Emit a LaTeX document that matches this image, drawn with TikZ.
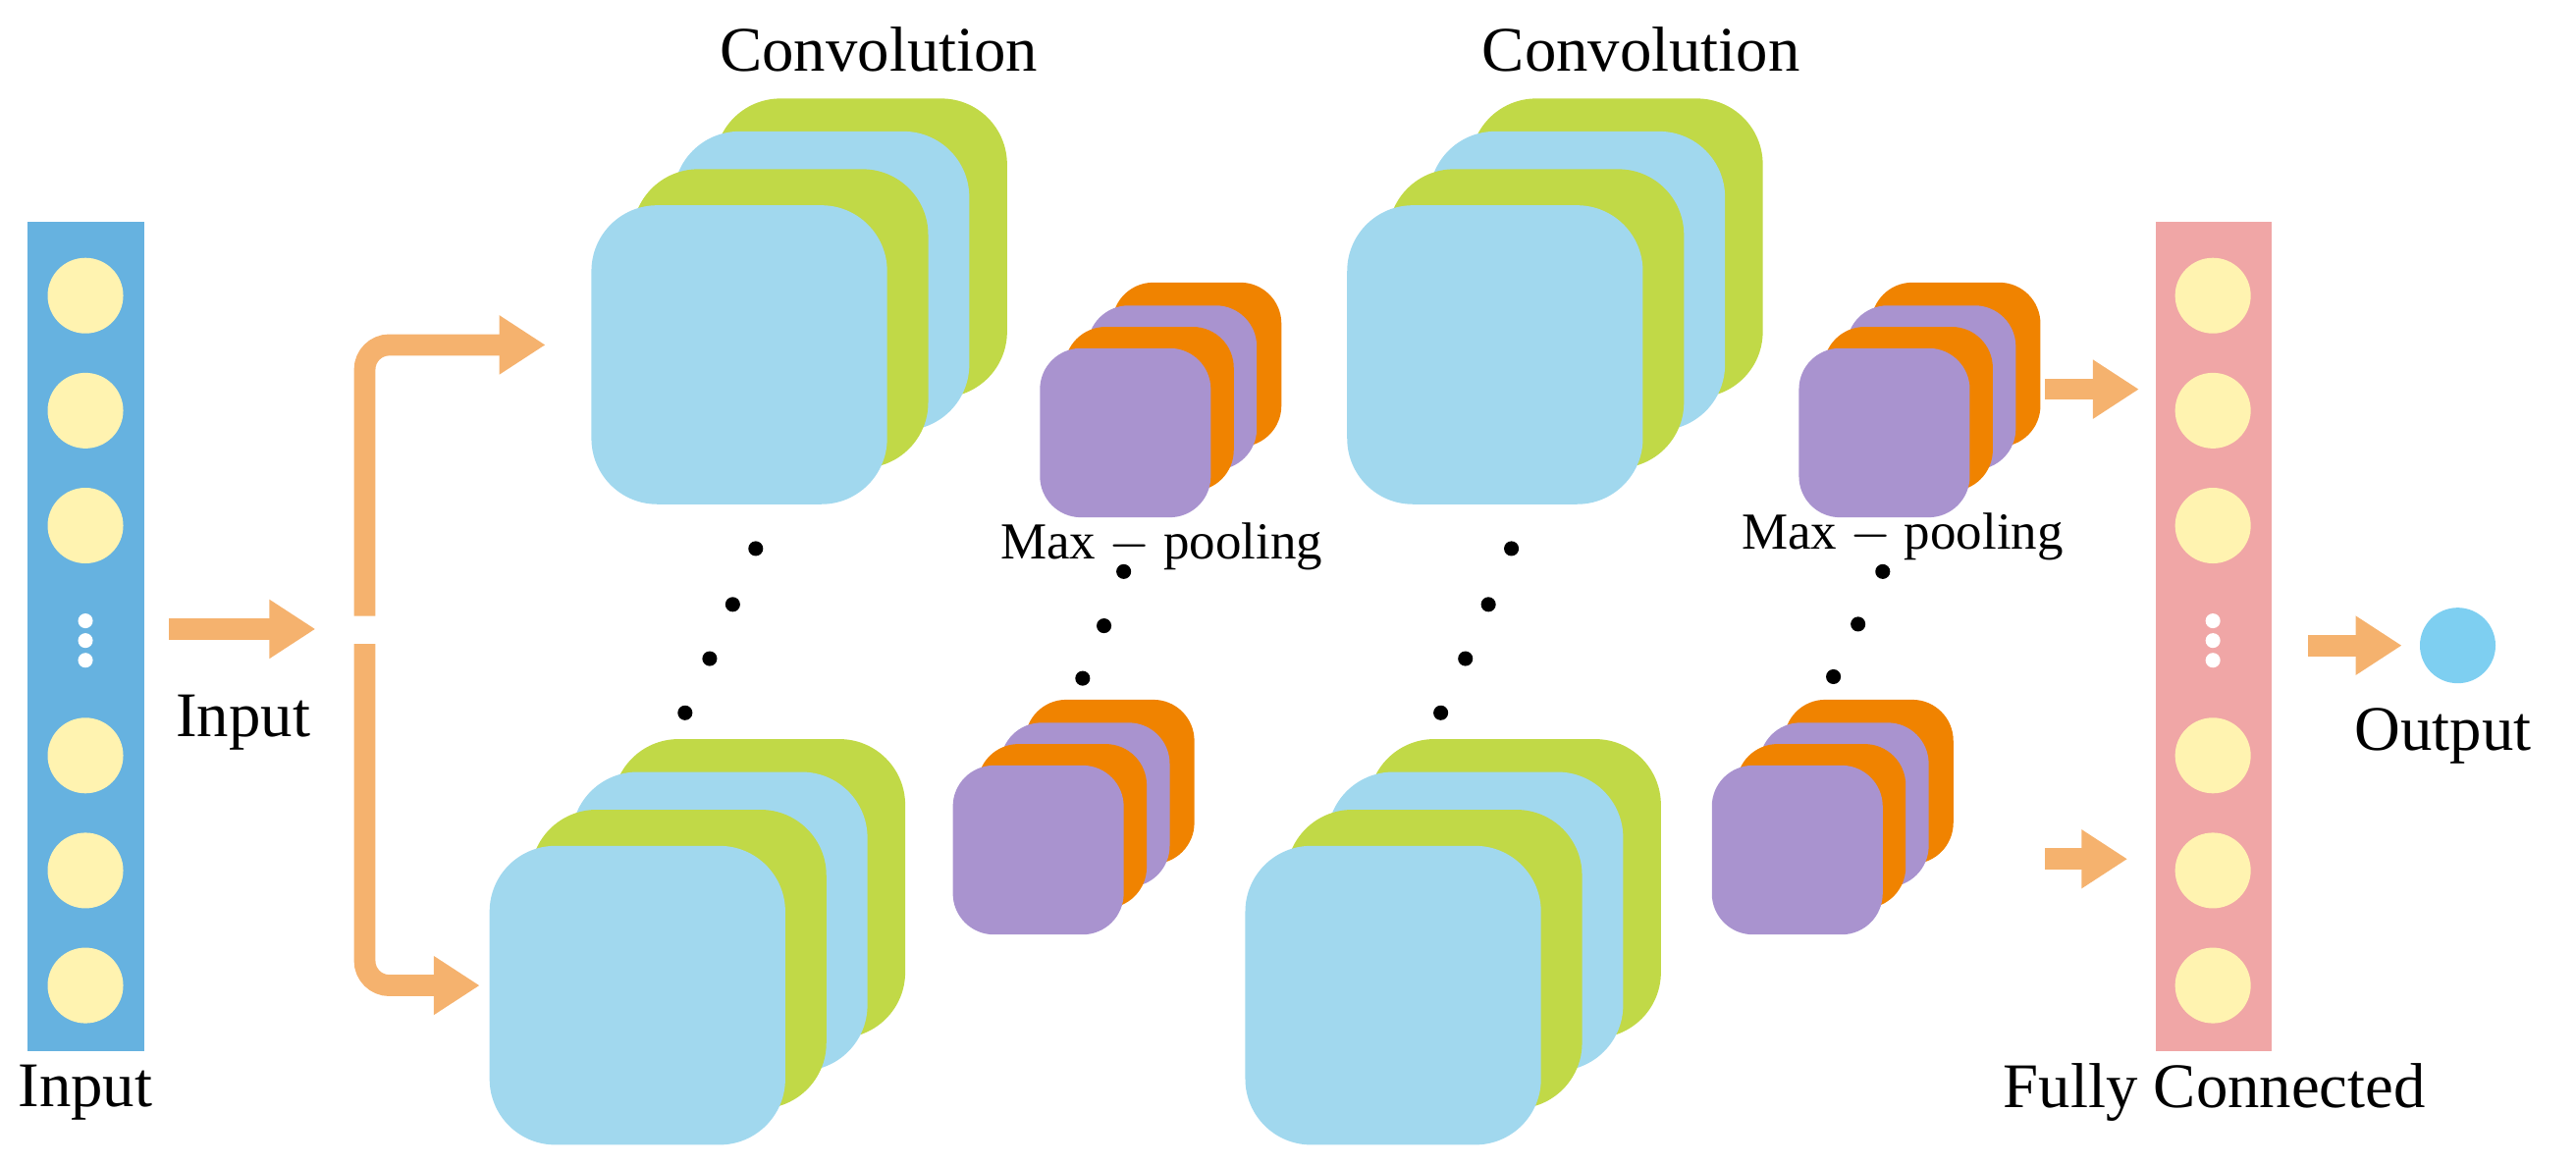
\documentclass[tikz,border=0pt]{standalone}
\usepackage{fontspec}
\setmainfont{Liberation Serif}
\usetikzlibrary{arrows.meta}
\definecolor{lb}{HTML}{A1D8EE}
\definecolor{gr}{HTML}{C1D947}
\definecolor{pu}{HTML}{A993CF}
\definecolor{or}{HTML}{F08300}
\definecolor{ar}{HTML}{F5B26E}
\definecolor{bar}{HTML}{66B2E0}
\definecolor{pk}{HTML}{F0A6A6}
\definecolor{yc}{HTML}{FFF3B0}
\definecolor{oc}{HTML}{7ECFF1}
\newcommand\rrect[5]{\fill[#1,rounded corners=0.4cm] (#2,#3) rectangle ++(#4,#5);}
\newcommand\convstack[2]{%
 \rrect{gr}{#1+75}{#2-65}{178}{182}
 \rrect{lb}{#1+50}{#2-45}{180}{182}
 \rrect{gr}{#1+25}{#2-22}{180}{182}
 \rrect{lb}{#1}{#2}{180}{182}}
\newcommand\poolstack[2]{%
 \fill[or,rounded corners=0.25cm] (#1+44,#2-40) rectangle ++(103,100);
 \fill[pu,rounded corners=0.25cm] (#1+29,#2-26) rectangle ++(103,100);
 \fill[or,rounded corners=0.25cm] (#1+15,#2-13) rectangle ++(103,100);
 \fill[pu,rounded corners=0.25cm] (#1,#2) rectangle ++(104,103);}
\begin{document}
\begin{tikzpicture}[x=0.01cm,y=-0.01cm,
  lbl/.style={font=\fontsize{11}{13}\selectfont},
  mp/.style={font=\fontsize{9}{11}\selectfont},
  fat/.style={ar,line width=0.13cm,-{Triangle[length=0.28cm,width=0.34cm]}},
  neur/.style={circle,fill=yc,minimum size=0.46cm,inner sep=0},
  dot/.style={circle,fill=black,minimum size=0.09cm,inner sep=0}]
\useasboundingbox (0,0) rectangle (1568,709);
% input bar
\fill[bar] (17,135) rectangle (88,640);
\foreach \y/\n in {180/a,250/b,320/c,460/d,530/e,600/f} \node[neur] (i\n) at (52,\y) {};
\foreach \y in {378,390,402} \fill[white] (52,\y) circle (0.045cm);
\node[lbl] (lin) at (52,665) {Input};
% FC bar
\fill[pk] (1312,135) rectangle (1383,640);
\foreach \y/\n in {180/a,250/b,320/c,460/d,530/e,600/f} \node[neur] (f\n) at (1347,\y) {};
\foreach \y in {378,390,402} \fill[white] (1347,\y) circle (0.045cm);
\node[lbl] (lfc) at (1348,665) {Fully Connected};
% arrows
\coordinate (a1) at (103,383); \coordinate (a2) at (192,383);
\draw[fat] (a1) -- (a2);
\node[lbl] (lin2) at (148,440) {Input};
\coordinate (b1) at (222,375); \coordinate (b2) at (332,210);
\coordinate (b3) at (222,392); \coordinate (b4) at (292,600);
\draw[fat,rounded corners=0.15cm] (b1) |- (b2);
\draw[fat,rounded corners=0.15cm] (b3) |- (b4);
% conv stacks
\convstack{360}{125}
\convstack{298}{515}
\convstack{820}{125}
\convstack{758}{515}
\node[lbl] (c1) at (535,30) {Convolution};
\node[lbl] (c2) at (999,30) {Convolution};
% pool stacks
\poolstack{633}{212}
\poolstack{580}{466}
\poolstack{1095}{212}
\poolstack{1042}{466}
\node[mp] (m1) at (707,333) {Max $-$ pooling};
\node[mp] (m2) at (1158,327) {Max $-$ pooling};
% dots
\foreach \x/\y in {460/334,446/368,432/401,417/434,920/334,906/368,892/401,877/434,684/348,672/381,659/413,1146/348,1131/380,1116/412}
  \node[dot] at (\x,\y) {};
% to FC
\coordinate (d1) at (1245,237); \coordinate (d2) at (1302,237);
\coordinate (e1) at (1245,523); \coordinate (e2) at (1295,523);
\draw[fat] (d1) -- (d2);
\draw[fat] (e1) -- (e2);
\coordinate (g1) at (1405,393); \coordinate (g2) at (1462,393);
\draw[fat] (g1) -- (g2);
\node[circle,fill=oc,minimum size=0.46cm,inner sep=0] (out) at (1496,393) {};
\node[lbl] (lout) at (1487,448) {Output};
\end{tikzpicture}
\end{document}
